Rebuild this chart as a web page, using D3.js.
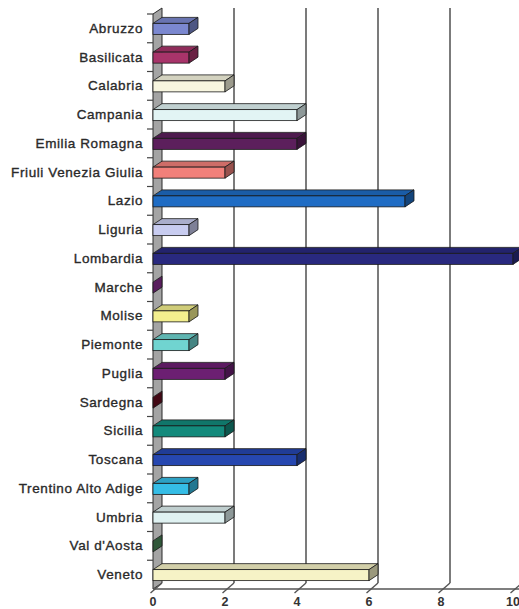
<!DOCTYPE html>
<html>
<head>
<meta charset="utf-8">
<script src="https://cdn.jsdelivr.net/npm/d3@7"></script>
<style>
  html, body { margin: 0; padding: 0; background: #fff; }
  svg { display: block; }
  text { font-family: "Liberation Sans", Arial, Helvetica, sans-serif; }
</style>
</head>
<body>
<svg id="chart" width="519" height="609"></svg>
<script>
// Regions and counts
const regions = [
  "Abruzzo", "Basilicata", "Calabria", "Campania", "Emilia Romagna",
  "Friuli Venezia Giulia", "Lazio", "Liguria", "Lombardia", "Marche",
  "Molise", "Piemonte", "Puglia", "Sardegna", "Sicilia",
  "Toscana", "Trentino Alto Adige", "Umbria", "Val d'Aosta", "Veneto"
];
const counts = [1, 1, 2, 4, 4, 2, 7, 1, 10, 0, 1, 1, 2, 0, 2, 4, 1, 2, 0, 6];
const barColors = [
  "#7b88d0", "#a8346a", "#f8f6e0", "#e2f4f4", "#5c1f5c",
  "#f2807a", "#1f6cc4", "#c8ccf0", "#29297f", "#8d2f95",
  "#f3ef8e", "#70d4d0", "#6c1f72", "#6b0f22", "#138a7c",
  "#2647b0", "#35bde6", "#e0f2f2", "#4c8c5c", "#f6f3c6"
];
const xTicks = [0, 2, 4, 6, 8, 10];

const svg = d3.select("#chart");

// depth offset of the 3D projection
const DX = 9, DY = -6;
const plotLeft = 153, plotRight = 513, plotTop = 14, plotBottom = 589;

const x = d3.scaleLinear().domain([0, 10]).range([plotLeft, plotRight]);
const y = d3.scaleBand().domain(regions).range([plotTop, plotBottom]).padding(0);
const barH = 11;

// back-wall gridlines
svg.append("g").selectAll("line")
  .data(xTicks.filter(d => d > 0))
  .join("line")
  .attr("x1", d => x(d) + DX).attr("x2", d => x(d) + DX)
  .attr("y1", plotTop + DY).attr("y2", plotBottom + DY)
  .attr("stroke", "#5a5a5a").attr("stroke-width", 1.6);

// left side wall
svg.append("path")
  .attr("d", `M${plotLeft},${plotTop}L${plotLeft + DX},${plotTop + DY}L${plotLeft + DX},${plotBottom + DY}L${plotLeft},${plotBottom}Z`)
  .attr("fill", "#a4a4a4").attr("stroke", "#2a2a2a").attr("stroke-width", 1);

// floor edges and x ticks
const floor = svg.append("g").attr("stroke", "#555").attr("stroke-width", 1.4);
floor.append("line")
  .attr("x1", plotLeft).attr("x2", 519)
  .attr("y1", plotBottom).attr("y2", plotBottom);
floor.selectAll("line.tk")
  .data(xTicks)
  .join("line").attr("class", "tk")
  .attr("x1", d => x(d) + DX).attr("y1", plotBottom + DY)
  .attr("x2", d => x(d) - 2.5).attr("y2", plotBottom + 4);

// x tick labels
svg.append("g").selectAll("text")
  .data(xTicks)
  .join("text")
  .attr("x", d => x(d)).attr("y", 606)
  .attr("text-anchor", "middle")
  .attr("font-size", 12.5).attr("font-weight", "bold").attr("fill", "#333")
  .text(d => d);

// y ticks at category boundaries
svg.append("g").selectAll("line")
  .data(d3.range(regions.length))
  .join("line")
  .attr("x1", plotLeft - 6).attr("x2", plotLeft)
  .attr("y1", i => plotTop + i * y.step()).attr("y2", i => plotTop + i * y.step())
  .attr("stroke", "#444").attr("stroke-width", 1.2);

// category labels
svg.append("g").selectAll("text")
  .data(regions)
  .join("text")
  .attr("x", 143)
  .attr("y", d => y(d) + y.bandwidth() / 2 + 1)
  .attr("text-anchor", "end")
  .attr("dominant-baseline", "middle")
  .attr("font-size", 13.5).attr("letter-spacing", 0.6).attr("fill", "#2a2a2a")
  .attr("stroke", "#2a2a2a").attr("stroke-width", 0.35)
  .text(d => d);

// 3D bars: front, top and side faces
const bars = svg.append("g").selectAll("g")
  .data(regions.map((r, i) => ({ r, v: counts[i], c: barColors[i] })))
  .join("g");

bars.each(function (d) {
  const g = d3.select(this);
  const cy = y(d.r) + y.bandwidth() / 2 + 0.5;
  const y0 = cy - barH / 2, y1 = cy + barH / 2;
  const x0 = x(0), x1 = x(d.v);
  const base = d3.color(d.c);
  if (d.v > 0) {
    g.append("path")
      .attr("d", `M${x0},${y0}L${x0 + DX},${y0 + DY}L${x1 + DX},${y0 + DY}L${x1},${y0}Z`)
      .attr("fill", base.darker(0.45)).attr("stroke", "#1a1a1a").attr("stroke-width", 0.8);
    g.append("rect")
      .attr("x", x0).attr("y", y0)
      .attr("width", x1 - x0).attr("height", barH)
      .attr("fill", base).attr("stroke", "#1a1a1a").attr("stroke-width", 0.8);
  }
  g.append("path")
    .attr("d", `M${x1},${y0}L${x1 + DX},${y0 + DY}L${x1 + DX},${y1 + DY}L${x1},${y1}Z`)
    .attr("fill", base.darker(1.3)).attr("stroke", "#1a1a1a").attr("stroke-width", 0.8);
});
</script>
</body>
</html>
